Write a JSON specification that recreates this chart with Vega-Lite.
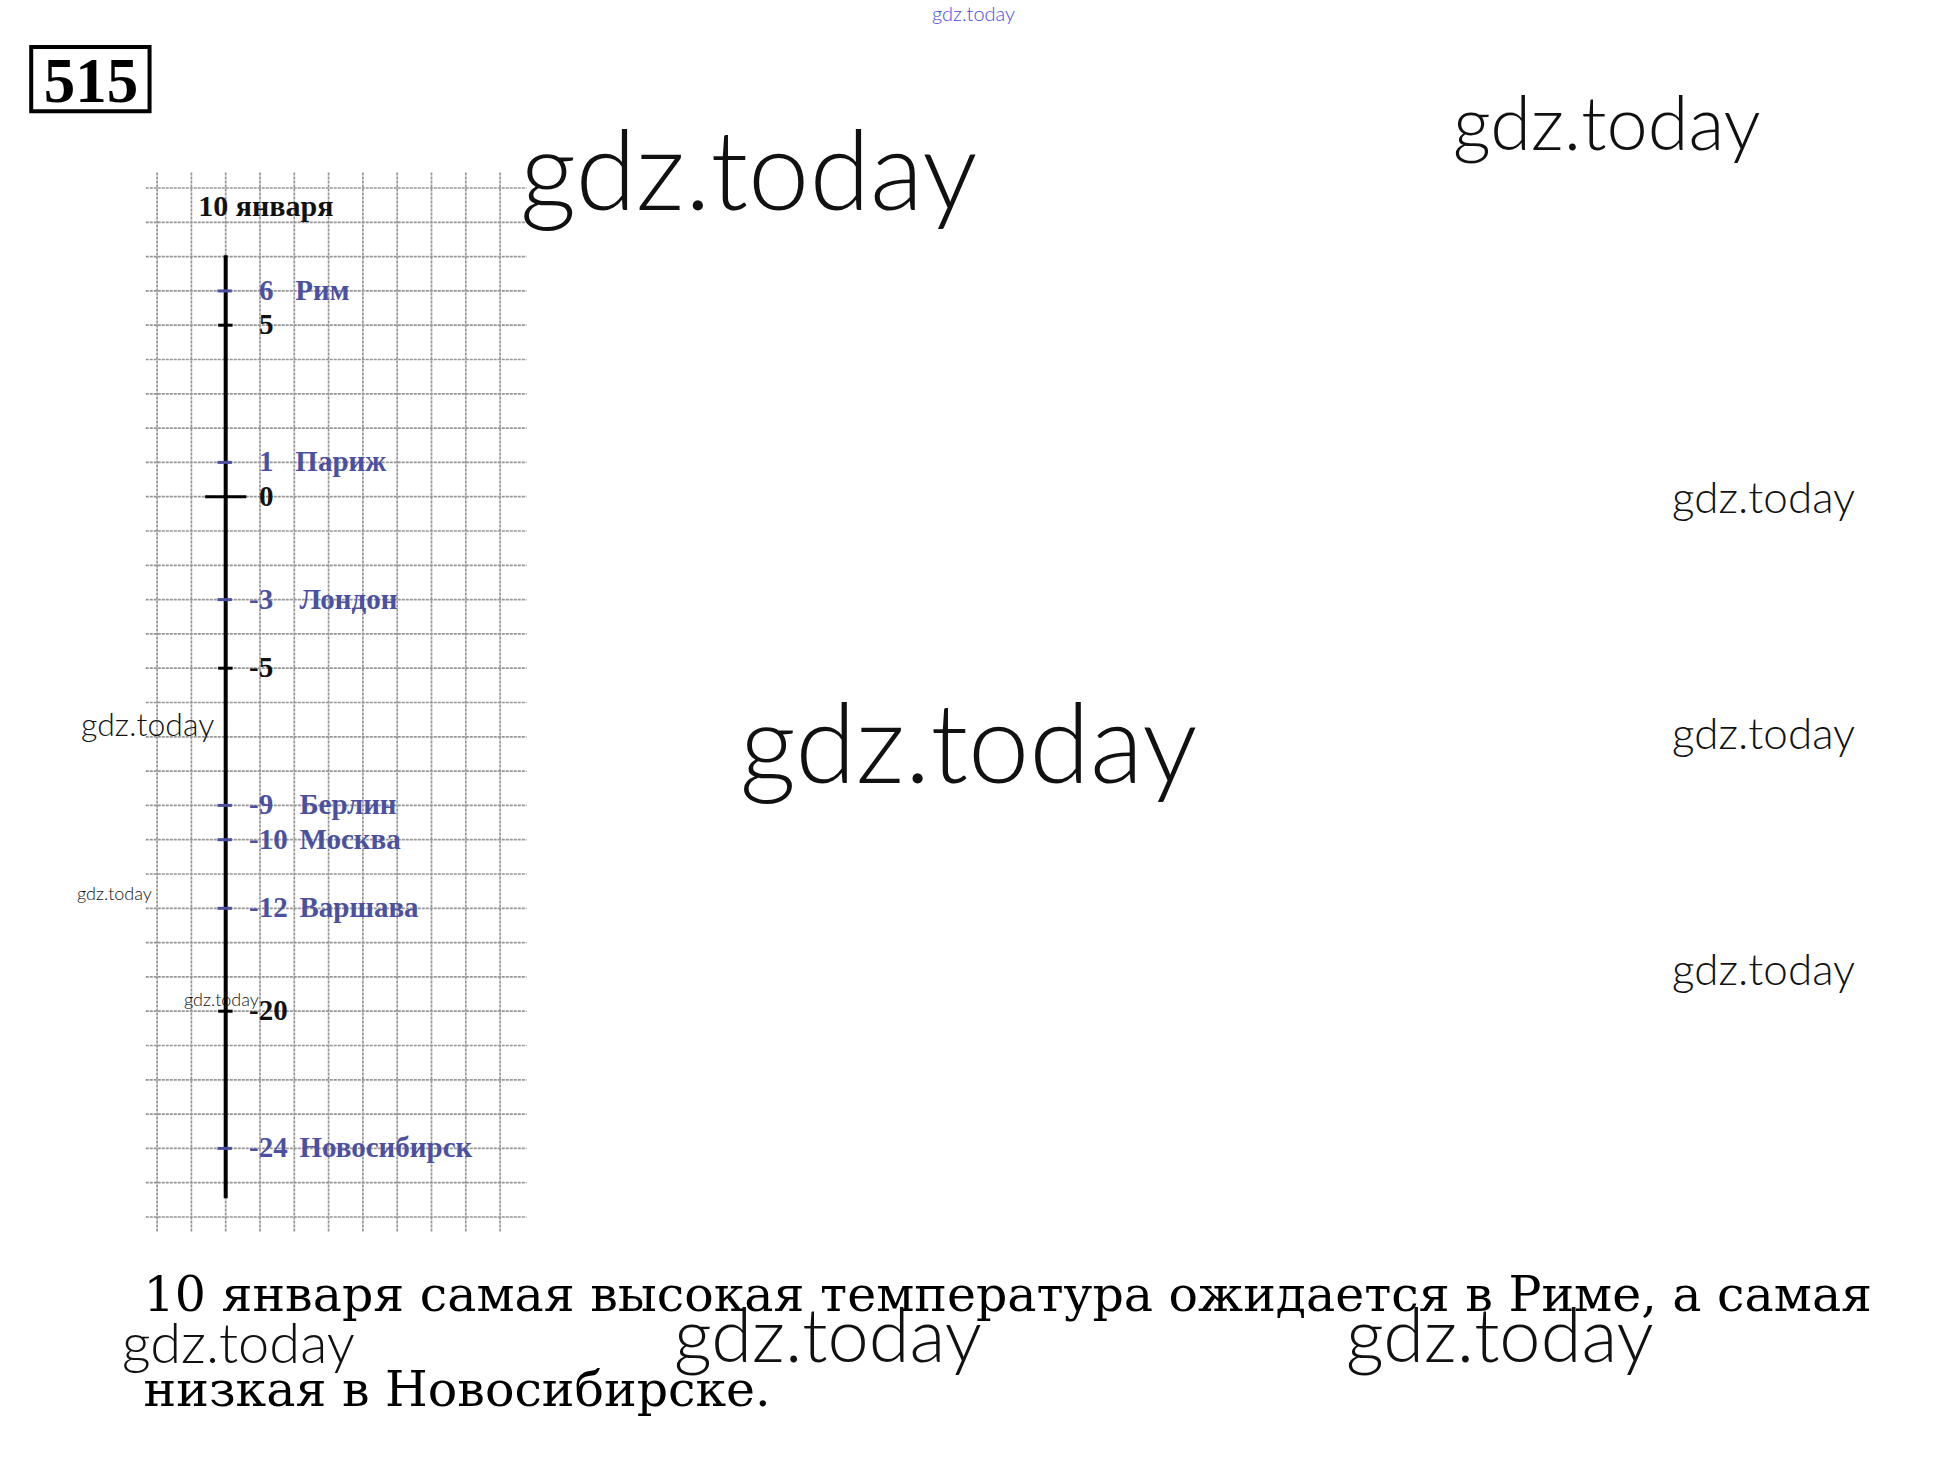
{
  "$schema": "https://vega.github.io/schema/vega-lite/v6.json",
  "width": 1946,
  "height": 1471,
  "autosize": {"type": "none"},
  "padding": 0,
  "background": "#ffffff",
  "config": {"view": {"stroke": null}},
  "datasets": {
    "gridH": [{"gy": 9},{"gy": 8},{"gy": 7},{"gy": 6},{"gy": 5},{"gy": 4},{"gy": 3},{"gy": 2},{"gy": 1},{"gy": 0},{"gy": -1},{"gy": -2},{"gy": -3},{"gy": -4},{"gy": -5},{"gy": -6},{"gy": -7},{"gy": -8},{"gy": -9},{"gy": -10},{"gy": -11},{"gy": -12},{"gy": -13},{"gy": -14},{"gy": -15},{"gy": -16},{"gy": -17},{"gy": -18},{"gy": -19},{"gy": -20},{"gy": -21}],
    "gridV": [{"gx": -2},{"gx": -1},{"gx": 0},{"gx": 1},{"gx": 2},{"gx": 3},{"gx": 4},{"gx": 5},{"gx": 6},{"gx": 7},{"gx": 8}],
    "scaleMarks": [
      {"t": 5, "row": 5, "label": "5"},
      {"t": 0, "row": 0, "label": "0"},
      {"t": -5, "row": -5, "label": "-5"},
      {"t": -20, "row": -15, "label": "-20"}
    ],
    "cities": [
      {"t": 6, "row": 6, "label": "6", "city": "Рим"},
      {"t": 1, "row": 1, "label": "1", "city": "Париж"},
      {"t": -3, "row": -3, "label": "-3", "city": "Лондон"},
      {"t": -9, "row": -9, "label": "-9", "city": "Берлин"},
      {"t": -10, "row": -10, "label": "-10", "city": "Москва"},
      {"t": -12, "row": -12, "label": "-12", "city": "Варшава"},
      {"t": -24, "row": -19, "label": "-24", "city": "Новосибирск"}
    ],
    "watermarks": [
      {"site": "gdz.today", "gx": 20.59, "gy": 13.87, "group": "top"},
      {"site": "gdz.today", "gx": 8.58, "gy": 8.36, "group": "xl"},
      {"site": "gdz.today", "gx": 35.78, "gy": 10.11, "group": "l"},
      {"site": "gdz.today", "gx": 42.17, "gy": -0.475, "group": "s"},
      {"site": "gdz.today", "gx": 14.99, "gy": -8.35, "group": "xl"},
      {"site": "gdz.today", "gx": 42.17, "gy": -7.356, "group": "s"},
      {"site": "gdz.today", "gx": 42.17, "gy": -14.24, "group": "s"},
      {"site": "gdz.today", "gx": -4.216, "gy": -6.977, "group": "xs"},
      {"site": "gdz.today", "gx": -4.335, "gy": -11.758, "group": "xxs"},
      {"site": "gdz.today", "gx": -1.216, "gy": -14.85, "group": "xxs"},
      {"site": "gdz.today", "gx": -3.023, "gy": -25.26, "group": "m"},
      {"site": "gdz.today", "gx": 13.07, "gy": -25.23, "group": "l"},
      {"site": "gdz.today", "gx": 32.66, "gy": -25.23, "group": "l"}
    ],
    "notes": [
      {"task": "515", "title": "10 января", "answer": "10 января самая высокая температура ожидается в Риме, а самая\nнизкая в Новосибирске."}
    ]
  },
  "layer": [
    {
      "data": {"name": "gridH"},
      "mark": {"type": "rule", "color": "#959595", "strokeWidth": 1.7, "strokeDash": [3, 1]},
      "encoding": {
        "x": {"datum": -2.33, "type": "quantitative", "scale": {"domain": [-6.58, 50.155], "nice": false, "zero": false}, "axis": null},
        "x2": {"datum": 8.77},
        "y": {"field": "gy", "type": "quantitative", "scale": {"domain": [-28.405, 14.481], "nice": false, "zero": false}, "axis": null}
      }
    },
    {
      "data": {"name": "gridV"},
      "mark": {"type": "rule", "color": "#959595", "strokeWidth": 1.7, "strokeDash": [3, 1]},
      "encoding": {
        "x": {"field": "gx", "type": "quantitative", "scale": {"domain": [-6.58, 50.155], "nice": false, "zero": false}, "axis": null},
        "y": {"datum": 9.45, "type": "quantitative", "scale": {"domain": [-28.405, 14.481], "nice": false, "zero": false}, "axis": null},
        "y2": {"datum": -21.45}
      }
    },
    {
      "data": {"name": "notes"},
      "mark": {"type": "rule", "color": "#000000", "strokeWidth": 4},
      "encoding": {
        "x": {"datum": 0, "type": "quantitative", "scale": {"domain": [-6.58, 50.155], "nice": false, "zero": false}, "axis": null},
        "y": {"datum": 7.04, "type": "quantitative", "scale": {"domain": [-28.405, 14.481], "nice": false, "zero": false}, "axis": null},
        "y2": {"datum": -20.45}
      }
    },
    {
      "data": {"name": "scaleMarks"},
      "transform": [{"filter": "datum.t != 0"}],
      "mark": {"type": "rule", "color": "#000000", "strokeWidth": 3},
      "encoding": {
        "x": {"datum": -0.22, "type": "quantitative", "scale": {"domain": [-6.58, 50.155], "nice": false, "zero": false}, "axis": null},
        "x2": {"datum": 0.2},
        "y": {"field": "row", "type": "quantitative", "scale": {"domain": [-28.405, 14.481], "nice": false, "zero": false}, "axis": null}
      }
    },
    {
      "data": {"name": "scaleMarks"},
      "transform": [{"filter": "datum.t == 0"}],
      "mark": {"type": "rule", "color": "#000000", "strokeWidth": 3},
      "encoding": {
        "x": {"datum": -0.6, "type": "quantitative", "scale": {"domain": [-6.58, 50.155], "nice": false, "zero": false}, "axis": null},
        "x2": {"datum": 0.6},
        "y": {"field": "row", "type": "quantitative", "scale": {"domain": [-28.405, 14.481], "nice": false, "zero": false}, "axis": null}
      }
    },
    {
      "data": {"name": "cities"},
      "mark": {"type": "rule", "color": "#4b50a0", "strokeWidth": 3},
      "encoding": {
        "x": {"datum": -0.24, "type": "quantitative", "scale": {"domain": [-6.58, 50.155], "nice": false, "zero": false}, "axis": null},
        "x2": {"datum": 0.18},
        "y": {"field": "row", "type": "quantitative", "scale": {"domain": [-28.405, 14.481], "nice": false, "zero": false}, "axis": null}
      }
    },
    {
      "data": {"name": "scaleMarks"},
      "transform": [{"filter": "datum.t >= 0"}],
      "mark": {"type": "text", "font": "Liberation Serif", "fontWeight": "bold", "fontSize": 29, "color": "#111111", "align": "left", "baseline": "alphabetic", "dy": 9},
      "encoding": {
        "x": {"datum": 0.97, "type": "quantitative", "scale": {"domain": [-6.58, 50.155], "nice": false, "zero": false}, "axis": null},
        "y": {"field": "row", "type": "quantitative", "scale": {"domain": [-28.405, 14.481], "nice": false, "zero": false}, "axis": null},
        "text": {"field": "label"}
      }
    },
    {
      "data": {"name": "scaleMarks"},
      "transform": [{"filter": "datum.t < 0"}],
      "mark": {"type": "text", "font": "Liberation Serif", "fontWeight": "bold", "fontSize": 29, "color": "#111111", "align": "left", "baseline": "alphabetic", "dy": 9},
      "encoding": {
        "x": {"datum": 0.68, "type": "quantitative", "scale": {"domain": [-6.58, 50.155], "nice": false, "zero": false}, "axis": null},
        "y": {"field": "row", "type": "quantitative", "scale": {"domain": [-28.405, 14.481], "nice": false, "zero": false}, "axis": null},
        "text": {"field": "label"}
      }
    },
    {
      "data": {"name": "cities"},
      "transform": [{"filter": "datum.t >= 0"}],
      "mark": {"type": "text", "font": "Liberation Serif", "fontWeight": "bold", "fontSize": 29, "color": "#4b50a0", "align": "left", "baseline": "alphabetic", "dy": 9},
      "encoding": {
        "x": {"datum": 0.97, "type": "quantitative", "scale": {"domain": [-6.58, 50.155], "nice": false, "zero": false}, "axis": null},
        "y": {"field": "row", "type": "quantitative", "scale": {"domain": [-28.405, 14.481], "nice": false, "zero": false}, "axis": null},
        "text": {"field": "label"}
      }
    },
    {
      "data": {"name": "cities"},
      "transform": [{"filter": "datum.t < 0"}],
      "mark": {"type": "text", "font": "Liberation Serif", "fontWeight": "bold", "fontSize": 29, "color": "#4b50a0", "align": "left", "baseline": "alphabetic", "dy": 9},
      "encoding": {
        "x": {"datum": 0.68, "type": "quantitative", "scale": {"domain": [-6.58, 50.155], "nice": false, "zero": false}, "axis": null},
        "y": {"field": "row", "type": "quantitative", "scale": {"domain": [-28.405, 14.481], "nice": false, "zero": false}, "axis": null},
        "text": {"field": "label"}
      }
    },
    {
      "data": {"name": "cities"},
      "transform": [{"filter": "datum.t >= 0"}],
      "mark": {"type": "text", "font": "Liberation Serif", "fontWeight": "bold", "fontSize": 29, "color": "#4b50a0", "align": "left", "baseline": "alphabetic", "dy": 9},
      "encoding": {
        "x": {"datum": 2.03, "type": "quantitative", "scale": {"domain": [-6.58, 50.155], "nice": false, "zero": false}, "axis": null},
        "y": {"field": "row", "type": "quantitative", "scale": {"domain": [-28.405, 14.481], "nice": false, "zero": false}, "axis": null},
        "text": {"field": "city"}
      }
    },
    {
      "data": {"name": "cities"},
      "transform": [{"filter": "datum.t < 0"}],
      "mark": {"type": "text", "font": "Liberation Serif", "fontWeight": "bold", "fontSize": 29, "color": "#4b50a0", "align": "left", "baseline": "alphabetic", "dy": 9},
      "encoding": {
        "x": {"datum": 2.15, "type": "quantitative", "scale": {"domain": [-6.58, 50.155], "nice": false, "zero": false}, "axis": null},
        "y": {"field": "row", "type": "quantitative", "scale": {"domain": [-28.405, 14.481], "nice": false, "zero": false}, "axis": null},
        "text": {"field": "city"}
      }
    },
    {
      "data": {"name": "notes"},
      "mark": {"type": "text", "font": "Liberation Serif", "fontWeight": "bold", "fontSize": 30, "color": "#111111", "align": "left", "baseline": "alphabetic"},
      "encoding": {
        "x": {"datum": -0.8, "type": "quantitative", "scale": {"domain": [-6.58, 50.155], "nice": false, "zero": false}, "axis": null},
        "y": {"datum": 8.17, "type": "quantitative", "scale": {"domain": [-28.405, 14.481], "nice": false, "zero": false}, "axis": null},
        "text": {"field": "title"}
      }
    },
    {
      "data": {"name": "notes"},
      "mark": {"type": "rect", "fill": "transparent", "stroke": "#000000", "strokeWidth": 4},
      "encoding": {
        "x": {"datum": -5.67, "type": "quantitative", "scale": {"domain": [-6.58, 50.155], "nice": false, "zero": false}, "axis": null},
        "x2": {"datum": -2.22},
        "y": {"datum": 13.11, "type": "quantitative", "scale": {"domain": [-28.405, 14.481], "nice": false, "zero": false}, "axis": null},
        "y2": {"datum": 11.24}
      }
    },
    {
      "data": {"name": "notes"},
      "mark": {"type": "text", "font": "Liberation Serif", "fontWeight": "bold", "fontSize": 63, "color": "#000000", "align": "center", "baseline": "alphabetic"},
      "encoding": {
        "x": {"datum": -3.93, "type": "quantitative", "scale": {"domain": [-6.58, 50.155], "nice": false, "zero": false}, "axis": null},
        "y": {"datum": 11.517, "type": "quantitative", "scale": {"domain": [-28.405, 14.481], "nice": false, "zero": false}, "axis": null},
        "text": {"field": "task"}
      }
    },
    {
      "data": {"name": "notes"},
      "mark": {"type": "text", "font": "DejaVu Serif", "fontSize": 49, "color": "#000000", "align": "left", "baseline": "alphabetic", "lineBreak": "\n", "lineHeight": 95},
      "encoding": {
        "x": {"datum": -2.394, "type": "quantitative", "scale": {"domain": [-6.58, 50.155], "nice": false, "zero": false}, "axis": null},
        "y": {"datum": -23.74, "type": "quantitative", "scale": {"domain": [-28.405, 14.481], "nice": false, "zero": false}, "axis": null},
        "text": {"field": "answer"}
      }
    },
    {
      "data": {"name": "watermarks"},
      "transform": [{"filter": "datum.group === 'top'"}],
      "mark": {"type": "text", "font": "Lato", "fontWeight": 300, "fontSize": 20, "color": "#4a4ae8", "align": "left", "baseline": "alphabetic"},
      "encoding": {
        "x": {"field": "gx", "type": "quantitative", "scale": {"domain": [-6.58, 50.155], "nice": false, "zero": false}, "axis": null},
        "y": {"field": "gy", "type": "quantitative", "scale": {"domain": [-28.405, 14.481], "nice": false, "zero": false}, "axis": null},
        "text": {"field": "site"}
      }
    },
    {
      "data": {"name": "watermarks"},
      "transform": [{"filter": "datum.group === 'xl'"}],
      "mark": {"type": "text", "font": "Lato", "fontWeight": 300, "fontSize": 110, "color": "#111111", "align": "left", "baseline": "alphabetic"},
      "encoding": {
        "x": {"field": "gx", "type": "quantitative", "scale": {"domain": [-6.58, 50.155], "nice": false, "zero": false}, "axis": null},
        "y": {"field": "gy", "type": "quantitative", "scale": {"domain": [-28.405, 14.481], "nice": false, "zero": false}, "axis": null},
        "text": {"field": "site"}
      }
    },
    {
      "data": {"name": "watermarks"},
      "transform": [{"filter": "datum.group === 'l'"}],
      "mark": {"type": "text", "font": "Lato", "fontWeight": 300, "fontSize": 74, "color": "#111111", "align": "left", "baseline": "alphabetic"},
      "encoding": {
        "x": {"field": "gx", "type": "quantitative", "scale": {"domain": [-6.58, 50.155], "nice": false, "zero": false}, "axis": null},
        "y": {"field": "gy", "type": "quantitative", "scale": {"domain": [-28.405, 14.481], "nice": false, "zero": false}, "axis": null},
        "text": {"field": "site"}
      }
    },
    {
      "data": {"name": "watermarks"},
      "transform": [{"filter": "datum.group === 'm'"}],
      "mark": {"type": "text", "font": "Lato", "fontWeight": 300, "fontSize": 56, "color": "#111111", "align": "left", "baseline": "alphabetic"},
      "encoding": {
        "x": {"field": "gx", "type": "quantitative", "scale": {"domain": [-6.58, 50.155], "nice": false, "zero": false}, "axis": null},
        "y": {"field": "gy", "type": "quantitative", "scale": {"domain": [-28.405, 14.481], "nice": false, "zero": false}, "axis": null},
        "text": {"field": "site"}
      }
    },
    {
      "data": {"name": "watermarks"},
      "transform": [{"filter": "datum.group === 's'"}],
      "mark": {"type": "text", "font": "Lato", "fontWeight": 300, "fontSize": 44, "color": "#111111", "align": "left", "baseline": "alphabetic"},
      "encoding": {
        "x": {"field": "gx", "type": "quantitative", "scale": {"domain": [-6.58, 50.155], "nice": false, "zero": false}, "axis": null},
        "y": {"field": "gy", "type": "quantitative", "scale": {"domain": [-28.405, 14.481], "nice": false, "zero": false}, "axis": null},
        "text": {"field": "site"}
      }
    },
    {
      "data": {"name": "watermarks"},
      "transform": [{"filter": "datum.group === 'xs'"}],
      "mark": {"type": "text", "font": "Lato", "fontWeight": 300, "fontSize": 32, "color": "#111111", "align": "left", "baseline": "alphabetic"},
      "encoding": {
        "x": {"field": "gx", "type": "quantitative", "scale": {"domain": [-6.58, 50.155], "nice": false, "zero": false}, "axis": null},
        "y": {"field": "gy", "type": "quantitative", "scale": {"domain": [-28.405, 14.481], "nice": false, "zero": false}, "axis": null},
        "text": {"field": "site"}
      }
    },
    {
      "data": {"name": "watermarks"},
      "transform": [{"filter": "datum.group === 'xxs'"}],
      "mark": {"type": "text", "font": "Lato", "fontWeight": 300, "fontSize": 18, "color": "#111111", "align": "left", "baseline": "alphabetic"},
      "encoding": {
        "x": {"field": "gx", "type": "quantitative", "scale": {"domain": [-6.58, 50.155], "nice": false, "zero": false}, "axis": null},
        "y": {"field": "gy", "type": "quantitative", "scale": {"domain": [-28.405, 14.481], "nice": false, "zero": false}, "axis": null},
        "text": {"field": "site"}
      }
    }
  ]
}
